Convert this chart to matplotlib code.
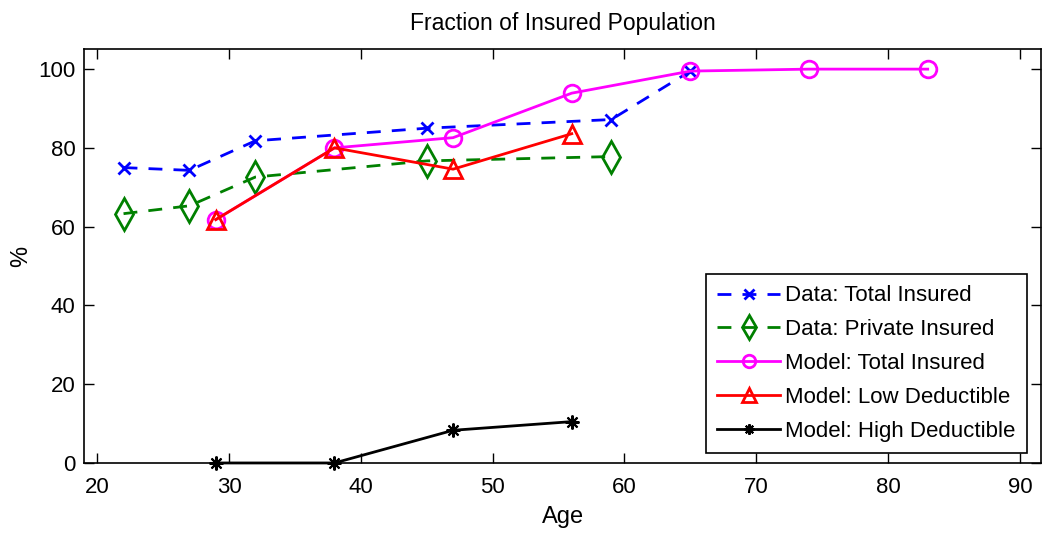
import matplotlib.pyplot as plt

plt.rcParams['font.family'] = ['Liberation Sans', 'DejaVu Sans']

# data
age_data = [22, 27, 32, 45, 59, 65]
data_total = [75, 74.3, 81.8, 85, 87.2, 99.5]
age_private = [22, 27, 32, 45, 59]
data_private = [63.3, 65.3, 72.6, 76.7, 77.8]

age_model = [29, 38, 47, 56, 65, 74, 83]
model_total = [61.8, 80, 82.6, 93.9, 99.5, 100, 100]
age_low = [29, 38, 47, 56]
model_low = [61.8, 80, 74.6, 83.6]
model_high = [0, 0, 8.3, 10.5]

fig = plt.figure(figsize=(10.42, 5.42), dpi=100)
ax = fig.add_axes([0.0806, 0.1458, 0.9185, 0.763])

ax.plot(age_data, data_total, '--', color='#0000ff', lw=2, marker='x',
        ms=9, mew=2, dashes=(5, 4), label='Data: Total Insured')
ax.plot(age_private, data_private, '--', color='#008000', lw=2, marker='d',
        ms=16, mew=2, mfc='none', dashes=(5, 4), label='Data: Private Insured')
ax.plot(age_model, model_total, '-', color='#ff00ff', lw=2, marker='o',
        ms=12, mew=2, mfc='none', label='Model: Total Insured')
ax.plot(age_low, model_low, '-', color='#ff0000', lw=2, marker='^',
        ms=13, mew=2, mfc='none', label='Model: Low Deductible')
ax.plot(age_low, model_high, '-', color='black', lw=2, marker=(8, 2, 0),
        ms=10, mew=1.5, label='Model: High Deductible', clip_on=False)

ax.set_xlim(19, 91.6)
ax.set_ylim(0, 105)
ax.set_xticks(range(20, 100, 10))
ax.set_yticks(range(0, 120, 20))
ax.tick_params(direction='in', top=True, right=True, labelsize=16, length=7,
               width=1)
ax.tick_params(axis='x', pad=10)
ax.tick_params(axis='y', pad=6)
for s in ax.spines.values():
    s.set_linewidth(1.2)

ax.set_title('Fraction of Insured Population', fontsize=16.5, pad=14)
ax.set_xlabel('Age', fontsize=17, labelpad=6)
ax.set_ylabel('%', fontsize=17)
ax.yaxis.set_label_coords(-0.054, 0.5)

leg = ax.legend(loc='lower right', bbox_to_anchor=(0.985, 0.024), fontsize=16,
                handlelength=2.8, handletextpad=0.25, borderpad=0.5,
                labelspacing=0.58, fancybox=False, framealpha=1,
                edgecolor='black', borderaxespad=0, markerscale=0.75)
leg.get_frame().set_linewidth(1.2)

fig.savefig('out.png', dpi=100)
